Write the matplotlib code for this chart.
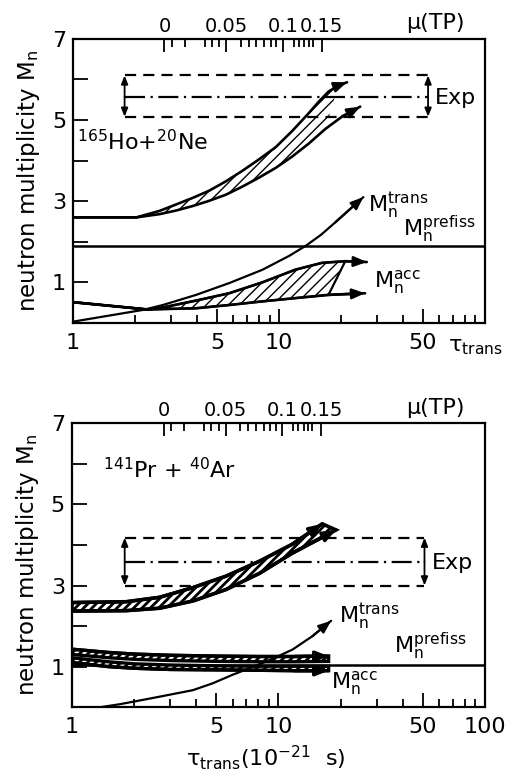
import numpy as np
import matplotlib
matplotlib.use("Agg")
import matplotlib.pyplot as plt
from matplotlib.ticker import NullFormatter

plt.rcParams['font.family'] = ['DejaVu Sans']
plt.rcParams['mathtext.default'] = 'regular'
plt.rcParams['mathtext.fontset'] = 'dejavusans'

# ---------------- data: top panel (165Ho + 20Ne) ----------------
top_band_up_tau = [1, 2.03, 2.63, 3.17, 3.81, 4.59, 5.53, 6.65, 8.0, 9.64, 11.6, 13.96, 15.6, 17.4, 19.4, 21.4]
top_band_up_val = [2.6, 2.6, 2.76, 2.92, 3.08, 3.26, 3.49, 3.75, 4.03, 4.33, 4.73, 5.17, 5.45, 5.70, 5.85, 5.93]
top_band_lo_tau = [1, 2.03, 2.63, 3.17, 3.81, 4.59, 5.53, 6.65, 8.0, 9.64, 11.6, 13.96, 16.8, 20.2, 24.8]
top_band_lo_val = [2.6, 2.6, 2.68, 2.77, 2.88, 3.01, 3.16, 3.36, 3.58, 3.82, 4.10, 4.42, 4.78, 5.08, 5.33]

top_trans_tau = [1, 1.5, 2.19, 2.73, 3.96, 5.73, 8.32, 11.2, 13.5, 16.0, 18.8, 25.7]
top_trans_val = [0.03, 0.18, 0.32, 0.44, 0.69, 0.98, 1.31, 1.65, 1.9, 2.17, 2.48, 3.1]

top_acc_up_tau = [1, 2.3, 2.73, 3.96, 5.73, 8.32, 12.0, 16.2, 21.0, 26.7]
top_acc_up_val = [0.51, 0.33, 0.38, 0.55, 0.73, 1.0, 1.31, 1.48, 1.52, 1.5]
top_acc_lo_tau = [1, 2.3, 2.73, 3.96, 5.73, 8.32, 12.0, 17.4, 26.2]
top_acc_lo_val = [0.51, 0.33, 0.34, 0.36, 0.44, 0.53, 0.61, 0.69, 0.73]

top_prefiss = 1.9
top_exp = [5.08, 5.57, 6.1]          # lower, mean, upper
top_exp_tau = [1.78, 53]

# ---------------- data: bottom panel (141Pr + 40Ar) ----------------
bot_band_up_tau = [1, 1.83, 2.66, 3.86, 5.57, 8.1, 11.7, 16.3]
bot_band_up_val = [2.58, 2.6, 2.71, 2.95, 3.23, 3.6, 4.02, 4.52]
bot_band_lo_tau = [1, 1.83, 2.66, 3.86, 5.57, 8.1, 11.7, 19.0]
bot_band_lo_val = [2.37, 2.38, 2.44, 2.62, 2.9, 3.3, 3.8, 4.37]

bot_mid_tau = [1, 1.5, 2, 3, 5, 8, 12, 17.5]
bot_A_up = [1.43, 1.35, 1.31, 1.28, 1.26, 1.25, 1.25, 1.26]
bot_A_lo = [1.30, 1.22, 1.18, 1.15, 1.13, 1.12, 1.12, 1.13]
bot_B_up = [1.22, 1.12, 1.07, 1.04, 1.02, 1.01, 1.01, 1.01]
bot_B_lo = [1.10, 1.00, 0.96, 0.93, 0.92, 0.91, 0.90, 0.90]

bot_trans_tau = [1.37, 1.71, 2.05, 2.66, 3.85, 4.81, 6.0, 7.24, 8.74, 10.1, 11.7, 14.6, 18.0]
bot_trans_val = [0.0, 0.075, 0.15, 0.26, 0.42, 0.59, 0.8, 0.96, 1.13, 1.27, 1.42, 1.75, 2.13]

bot_prefiss = 1.05
bot_exp = [3.0, 3.58, 4.18]
bot_exp_tau = [1.8, 51]

# ---------------- axis ticks ----------------
x_major = [1, 5, 10, 50, 100]
x_minor = [2, 3, 4, 6, 7, 8, 9, 20, 30, 40, 60, 70, 80, 90]
y_ticks = [1, 2, 3, 4, 5, 6, 7]
y_labels = ['1', '', '3', '', '5', '', '7']
mu_labels = ['0', '0.05', '0.1', '0.15']
mu_major_tau = [2.78, 5.56, 10.45, 16.1]
mu_minor_tau = [3.02, 3.48, 4.38, 4.71, 5.13, 6.53, 7.16, 7.77, 8.47, 9.12, 9.70,
                11.8, 12.5, 13.3, 13.96, 14.6]

FS = 15
LW = 1.9


def arrow_curve(ax, t, v, lw=LW, z=4):
    ax.plot(t, v, color='k', lw=lw, zorder=z, solid_capstyle='round', solid_joinstyle='round')
    ax.annotate('', xy=(t[-1], v[-1]), xytext=(t[-2], v[-2]),
                arrowprops=dict(arrowstyle='-|>,head_length=0.75,head_width=0.3',
                                color='k', lw=lw, shrinkA=0, shrinkB=0), zorder=z)


def set_hatch_lw(p, w):
    try:
        p.set_hatch_linewidth(w)
    except Exception:
        pass


def exp_box(ax, vals, taus):
    lo, mid, hi = vals
    ax.plot(taus, [hi, hi], color='k', lw=1.6, dashes=(5, 3.2), zorder=3)
    ax.plot(taus, [lo, lo], color='k', lw=1.6, dashes=(5, 3.2), zorder=3)
    ax.plot(taus, [mid, mid], color='k', lw=1.6, dashes=(9, 2.5, 1, 2.5), zorder=3)
    for t in taus:
        for end in (hi, lo):
            ax.annotate('', xy=(t, end), xytext=(t, mid),
                        arrowprops=dict(arrowstyle='-|>,head_length=0.5,head_width=0.2',
                                        color='k', lw=1.3, shrinkA=0, shrinkB=0), zorder=3)


def setup(ax, last_label):
    ax.set_xscale('log')
    ax.set_xlim(1, 100)
    ax.set_ylim(0, 7)
    ax.set_yticks(y_ticks, labels=y_labels)
    ax.set_xticks(x_major, labels=['1', '5', '10', '50', last_label])
    ax.set_xticks(x_minor, minor=True)
    ax.xaxis.set_minor_formatter(NullFormatter())
    ax.tick_params(axis='y', direction='in', length=11, width=1.3, labelsize=FS + 1, pad=5, right=False)
    ax.tick_params(axis='x', which='major', direction='in', length=10, width=1.3, labelsize=FS + 1, pad=7, top=False)
    ax.tick_params(axis='x', which='minor', direction='in', length=6, width=1.3, top=False)
    for s in ax.spines.values():
        s.set_linewidth(1.6)
    ax.set_ylabel(r'neutron multiplicity $M_n$', fontsize=FS + 1.5)
    ax.yaxis.set_label_coords(-0.075, 0.5)
    tw = ax.twiny()
    tw.set_xscale('log')
    tw.set_xlim(1, 100)
    tw.set_xticks(mu_major_tau, labels=mu_labels)
    tw.set_xticks(mu_minor_tau, minor=True)
    tw.xaxis.set_minor_formatter(NullFormatter())
    tw.tick_params(axis='x', which='major', direction='in', length=9, width=1.3, labelsize=FS - 1, pad=2)
    tw.tick_params(axis='x', which='minor', direction='in', length=6, width=1.3)
    for s in tw.spines.values():
        s.set_visible(False)
    ax.text(0.81, 1.02, 'μ(TP)', transform=ax.transAxes, fontsize=FS + 1, ha='left', va='bottom')


fig = plt.figure(figsize=(5.18, 7.78), dpi=100)
ax1 = fig.add_axes([0.141, 0.585, 0.795, 0.365])
ax2 = fig.add_axes([0.139, 0.091, 0.797, 0.365])

# ---------------- top panel ----------------
setup(ax1, '')
ax1.text(0.91, -0.085, r'$\tau_{trans}$', transform=ax1.transAxes, fontsize=FS + 1, ha='left', va='center')

ax1.axhline(top_prefiss, color='k', lw=1.8, zorder=3)
exp_box(ax1, top_exp, top_exp_tau)

poly_t = top_band_up_tau[:-1] + top_band_lo_tau[-3::-1]
poly_v = top_band_up_val[:-1] + top_band_lo_val[-3::-1]
p = ax1.fill(poly_t, poly_v, facecolor='none', edgecolor='k', hatch='///', lw=0, zorder=2)[0]
set_hatch_lw(p, 1.0)
arrow_curve(ax1, top_band_up_tau, top_band_up_val)
arrow_curve(ax1, top_band_lo_tau, top_band_lo_val)

poly_t = top_acc_up_tau[:-1] + top_acc_lo_tau[-2::-1]
poly_v = top_acc_up_val[:-1] + top_acc_lo_val[-2::-1]
p = ax1.fill(poly_t, poly_v, facecolor='none', edgecolor='k', hatch='///', lw=1.6, zorder=2)[0]
set_hatch_lw(p, 1.0)
arrow_curve(ax1, top_acc_up_tau, top_acc_up_val)
arrow_curve(ax1, top_acc_lo_tau, top_acc_lo_val)
arrow_curve(ax1, top_trans_tau, top_trans_val, lw=1.6)

ax1.text(1.04, 4.48, r'$^{165}$Ho+$^{20}$Ne', fontsize=FS + 1, ha='left', va='center')
ax1.text(27.2, 2.9, r'$M_n^{trans}$', fontsize=FS + 1, ha='left', va='center')
ax1.text(40.0, 2.3, r'$M_n^{prefiss}$', fontsize=FS + 1, ha='left', va='center')
ax1.text(28.8, 1.0, r'$M_n^{acc}$', fontsize=FS + 1, ha='left', va='center')
ax1.text(57, 5.55, 'Exp', fontsize=FS + 1, ha='left', va='center')

# ---------------- bottom panel ----------------
setup(ax2, '100')
ax2.text(0.47, -0.176, r'$\tau_{trans}(10^{-21}\ \ s)$', transform=ax2.transAxes,
         fontsize=FS + 1, ha='center', va='center')

ax2.axhline(bot_prefiss, color='k', lw=1.8, zorder=3)
exp_box(ax2, bot_exp, bot_exp_tau)

poly_t = bot_band_up_tau + bot_band_lo_tau[::-1]
poly_v = bot_band_up_val + bot_band_lo_val[::-1]
p = ax2.fill(poly_t, poly_v, facecolor='white', edgecolor='k', hatch='////', lw=2.6, zorder=4)[0]
set_hatch_lw(p, 2.0)
arrow_curve(ax2, bot_band_up_tau, bot_band_up_val, lw=2.4, z=5)
arrow_curve(ax2, bot_band_lo_tau, bot_band_lo_val, lw=2.4, z=5)

for up, lo in ((bot_A_up, bot_A_lo), (bot_B_up, bot_B_lo)):
    p = ax2.fill(bot_mid_tau + bot_mid_tau[::-1], up + lo[::-1], facecolor='white',
                 edgecolor='k', hatch='////', lw=2.4, zorder=4)[0]
    set_hatch_lw(p, 2.0)
arrow_curve(ax2, bot_mid_tau, bot_A_up, lw=2.4, z=5)
arrow_curve(ax2, bot_mid_tau, bot_B_lo, lw=2.4, z=5)
arrow_curve(ax2, bot_trans_tau, bot_trans_val, lw=1.6, z=6)

ax2.text(1.41, 5.86, r'$^{141}$Pr + $^{40}$Ar', fontsize=FS + 1, ha='left', va='center')
ax2.text(19.7, 2.24, r'$M_n^{trans}$', fontsize=FS + 1, ha='left', va='center')
ax2.text(36.4, 1.5, r'$M_n^{prefiss}$', fontsize=FS + 1, ha='left', va='center')
ax2.text(18.0, 0.6, r'$M_n^{acc}$', fontsize=FS + 1, ha='left', va='center')
ax2.text(55.6, 3.55, 'Exp', fontsize=FS + 1, ha='left', va='center')

fig.savefig('out.png', dpi=100)
